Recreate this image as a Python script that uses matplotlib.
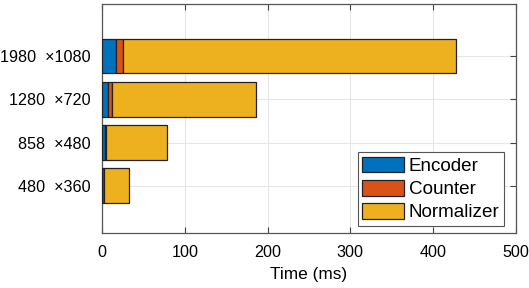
import matplotlib
matplotlib.use("Agg")
import matplotlib.pyplot as plt
import numpy as np

plt.rcParams['font.family'] = ['Liberation Sans', 'DejaVu Sans']

resolutions = ["480  ×360", "858  ×480", "1280  ×720", "1980  ×1080"]
encoder = [2.0, 4.0, 7.0, 17.0]
counter = [0.6, 1.0, 4.5, 8.0]
normalizer = [29.5, 73.0, 174.5, 402.0]

colors = {"Encoder": "#0072BD", "Counter": "#D95319", "Normalizer": "#EDB120"}

fig = plt.figure(figsize=(5.29, 2.88), dpi=100)
ax = fig.add_axes([102/529, 1-233/288, 414/529, 229/288])

y = np.arange(1, len(resolutions) + 1)
left = np.zeros(len(y))
for name, vals in [("Encoder", encoder), ("Counter", counter), ("Normalizer", normalizer)]:
    ax.barh(y, vals, left=left, height=0.8, color=colors[name],
            edgecolor="#222222", linewidth=0.9, label=name, zorder=3)
    left = left + np.array(vals)

ax.set_xlim(0, 500)
ax.set_ylim(-0.09, 5.2)
ax.set_xticks([0, 100, 200, 300, 400, 500])
ax.set_yticks(y)
ax.set_yticklabels(resolutions)
ax.set_xlabel("Time (ms)", fontsize=12.4, labelpad=5)
ax.tick_params(axis='both', direction='in', labelsize=11.6, top=True, right=True,
               length=4, width=0.8, color="#444444", pad=8.5)
ax.grid(True, color="#e6e6e6", linewidth=0.8, zorder=0)
ax.set_axisbelow(True)
for s in ax.spines.values():
    s.set_color("#555555")
    s.set_linewidth(0.9)

leg = ax.legend(loc='lower right', bbox_to_anchor=(0.971, 0.03), fontsize=13.6,
                frameon=True, fancybox=False, framealpha=1, edgecolor="#555555",
                handlelength=2.2, handleheight=0.92, handletextpad=0.25,
                labelspacing=0.25, borderpad=0.25, borderaxespad=0)
leg.get_frame().set_linewidth(0.8)

fig.savefig("out.png", dpi=100)
